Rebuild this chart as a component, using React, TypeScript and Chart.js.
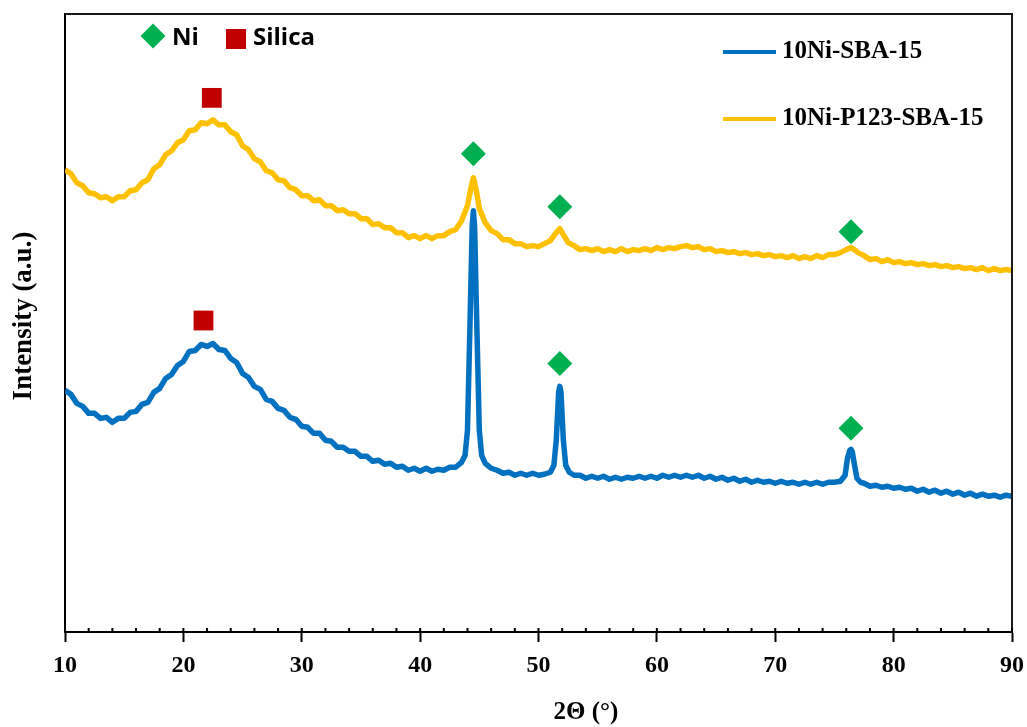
import React, { useEffect, useRef } from "react";
import { Chart, registerables } from "chart.js";

Chart.register(...registerables);

// 2θ positions and intensities (a.u.) for 10Ni-SBA-15
const blueTheta = [
  10, 10.5, 11, 11.5, 12, 12.5, 13, 13.5, 14,
  14.5, 15, 15.5, 16, 16.5, 17, 17.5, 18, 18.5, 19,
  19.5, 20, 20.5, 21, 21.5, 22, 22.5, 23, 23.5, 24,
  24.5, 25, 25.5, 26, 26.5, 27, 27.5, 28, 28.5, 29,
  29.5, 30, 30.5, 31, 31.5, 32, 32.5, 33, 33.5, 34,
  34.5, 35, 35.5, 36, 36.5, 37, 37.5, 38, 38.5, 39,
  39.5, 40, 40.5, 41, 41.5, 42, 42.5, 43, 43.5,
  43.8, 44.0, 44.2, 44.4, 44.5, 44.6, 44.8, 45.0, 45.2,
  45.5, 46, 46.5, 47, 47.5, 48, 48.5, 49, 49.5, 50, 50.5, 51,
  51.3, 51.5, 51.7, 51.8, 51.9, 52.1, 52.3, 52.6,
  53, 53.5, 54, 54.5, 55, 55.5, 56, 56.5, 57, 57.5, 58, 58.5, 59, 59.5, 60, 60.5,
  61, 61.5, 62, 62.5, 63, 63.5, 64, 64.5, 65, 65.5, 66, 66.5, 67, 67.5, 68, 68.5,
  69, 69.5, 70, 70.5, 71, 71.5, 72, 72.5, 73, 73.5, 74, 74.5, 75, 75.5,
  75.9, 76.1, 76.3, 76.4, 76.5, 76.7, 76.9, 77.2,
  77.5, 78, 78.5, 79, 79.5, 80, 80.5, 81, 81.5, 82, 82.5, 83, 83.5, 84, 84.5,
  85, 85.5, 86, 86.5, 87, 87.5, 88, 88.5, 89, 89.5, 90,
];
const blueIntensity = [
  242, 238, 229, 226, 219, 219, 214, 215, 210,
  214, 214, 220, 221, 228, 230, 240, 244, 254, 258,
  267, 271, 281, 282, 288, 286, 289, 283, 282, 274,
  270, 259, 255, 246, 243, 233, 231, 224, 222, 215,
  213, 206, 205, 199, 199, 192, 191, 185, 185, 181,
  181, 176, 176, 171, 172, 168, 169, 165, 166, 162,
  164, 161, 164, 161, 163, 162, 165, 165, 170,
  177, 202, 302, 407, 422, 407, 302, 202, 177,
  169, 164, 162, 159, 160, 157, 159, 157, 159, 157, 158, 160,
  167, 192, 240, 246, 240, 192, 167, 160,
  157, 157, 154, 156, 154, 156, 153, 155, 153, 155, 154, 156, 154, 156, 154, 157,
  155, 157, 155, 157, 155, 157, 154, 156, 153, 155, 152, 154, 151, 153, 150, 152,
  150, 151, 149, 151, 149, 150, 148, 150, 148, 150, 148, 150, 150, 151,
  157, 174, 182, 183, 181, 167, 154, 150,
  149, 146, 147, 145, 146, 144, 145, 143, 144, 141, 143, 140, 142, 139, 141,
  138, 140, 137, 139, 136, 138, 136, 137, 135, 137, 136,
];

// 2θ positions and intensities (a.u.) for 10Ni-P123-SBA-15
const yellowTheta = [
  10, 10.5, 11, 11.5, 12, 12.5, 13, 13.5, 14,
  14.5, 15, 15.5, 16, 16.5, 17, 17.5, 18, 18.5, 19,
  19.5, 20, 20.5, 21, 21.5, 22, 22.5, 23, 23.5, 24,
  24.5, 25, 25.5, 26, 26.5, 27, 27.5, 28, 28.5, 29,
  29.5, 30, 30.5, 31, 31.5, 32, 32.5, 33, 33.5, 34,
  34.5, 35, 35.5, 36, 36.5, 37, 37.5, 38, 38.5, 39,
  39.5, 40, 40.5, 41, 41.5, 42, 42.5, 43, 43.5, 44,
  44.25, 44.5, 44.75,
  45, 45.5, 46, 46.5, 47, 47.5, 48, 48.5, 49, 49.5, 50, 50.5, 51, 51.5,
  51.8, 52.1, 52.5,
  53, 53.5, 54, 54.5, 55, 55.5, 56, 56.5, 57, 57.5, 58, 58.5, 59, 59.5, 60, 60.5,
  61, 61.5, 62, 62.5, 63, 63.5, 64, 64.5, 65, 65.5, 66, 66.5, 67, 67.5, 68, 68.5,
  69, 69.5, 70, 70.5, 71, 71.5, 72, 72.5, 73, 73.5, 74, 74.5, 75, 75.5, 76,
  76.4, 76.8,
  77, 77.5, 78, 78.5, 79, 79.5, 80, 80.5, 81, 81.5, 82, 82.5, 83, 83.5, 84, 84.5,
  85, 85.5, 86, 86.5, 87, 87.5, 88, 88.5, 89, 89.5, 90,
];
const yellowIntensity = [
  463, 459, 450, 447, 440, 439, 435, 436, 432,
  436, 436, 442, 443, 450, 453, 464, 468, 478, 482,
  490, 493, 502, 503, 510, 509, 513, 508, 508, 501,
  498, 487, 483, 474, 471, 462, 460, 453, 452, 445,
  443, 437, 437, 432, 433, 427, 427, 422, 423, 419,
  419, 414, 414, 408, 409, 405, 405, 400, 400, 395,
  397, 394, 397, 394, 397, 397, 401, 403, 412, 427,
  442, 455, 442,
  424, 410, 402, 399, 393, 393, 389, 389, 386, 387, 386, 389, 392, 400,
  404, 398, 390,
  387, 383, 384, 382, 384, 381, 383, 381, 384, 381, 383, 382, 384, 382, 385, 383,
  385, 384, 386, 387, 385, 386, 383, 384, 381, 382, 380, 381, 379, 380, 378, 379,
  377, 378, 376, 377, 375, 377, 374, 376, 374, 377, 375, 378, 378, 380, 383,
  385, 382,
  380, 377, 373, 374, 371, 373, 370, 371, 369, 370, 368, 369, 367, 368, 366, 367,
  365, 366, 364, 365, 363, 365, 362, 364, 362, 363, 362,
];

// Peak markers
const niTheta = [44.5, 51.8, 76.4, 51.8, 76.4];
const niIntensity = [479, 426, 401, 269, 204];
const silicaTheta = [22.4, 21.7];
const silicaIntensity = [535, 312];

const xTicks = [10, 20, 30, 40, 50, 60, 70, 80, 90];
const minorTicks = [12, 14, 16, 18, 22, 24, 26, 28, 32, 34, 36, 38, 42, 44, 46, 48, 52, 54, 56, 58, 62, 64, 66, 68, 72, 74, 76, 78, 82, 84, 86, 88];

const seriesNames = ["10Ni-SBA-15", "10Ni-P123-SBA-15"];
const seriesColors = ["#0070C0", "#FFC000"];
const NI_COLOR = "#00B050";
const SI_COLOR = "#C00000";
const SERIF = '"Liberation Serif", "Times New Roman", serif';

const pts = (xs: number[], ys: number[]) =>
  xs.map((x, i) => ({ x, y: ys[i] })).filter((p) => p.y !== undefined);

const decorPlugin = {
  id: "decor",
  afterDraw(chart: any) {
    const { ctx, chartArea } = chart;
    const xs = chart.scales.x;
    const { left, right, top, bottom } = chartArea;
    ctx.save();
    // frame top/right
    ctx.strokeStyle = "#1a1a1a";
    ctx.lineWidth = 2;
    ctx.beginPath();
    ctx.moveTo(left, top);
    ctx.lineTo(right, top);
    ctx.lineTo(right, bottom);
    ctx.stroke();
    // inward ticks
    ctx.strokeStyle = "#000";
    ctx.lineWidth = 2;
    ctx.beginPath();
    [...minorTicks, ...xTicks].forEach((v) => {
      const px = xs.getPixelForValue(v);
      ctx.moveTo(px, bottom - 4);
      ctx.lineTo(px, bottom);
    });
    ctx.stroke();

    // axis titles
    ctx.fillStyle = "#000";
    ctx.font = `bold 25px ${SERIF}`;
    ctx.textAlign = "center";
    ctx.textBaseline = "middle";
    ctx.fillText("2\u0398 (\u00B0)", 586, 713);
    ctx.save();
    ctx.translate(24, 316);
    ctx.rotate(-Math.PI / 2);
    ctx.font = `bold 27px ${SERIF}`;
    ctx.fillText("Intensity (a.u.)", 0, 0);
    ctx.restore();

    // phase key (top-left)
    ctx.fillStyle = NI_COLOR;
    ctx.beginPath();
    ctx.moveTo(153 - 12.5, 36);
    ctx.lineTo(153, 36 - 12.5);
    ctx.lineTo(153 + 12.5, 36);
    ctx.lineTo(153, 36 + 12.5);
    ctx.closePath();
    ctx.fill();
    ctx.fillStyle = SI_COLOR;
    ctx.fillRect(226, 29, 20, 20);
    ctx.fillStyle = "#000";
    ctx.font = 'bold 24px "Open Sans", "Noto Sans", sans-serif';
    ctx.textAlign = "left";
    ctx.fillText("Ni", 172, 38);
    ctx.fillText("Silica", 253, 38);

    // series legend (top-right)
    const rows = [52, 119];
    seriesNames.forEach((name, i) => {
      ctx.strokeStyle = seriesColors[i];
      ctx.lineWidth = 4;
      ctx.beginPath();
      ctx.moveTo(723, rows[i]);
      ctx.lineTo(776, rows[i]);
      ctx.stroke();
      ctx.fillStyle = "#000";
      ctx.font = `bold 25px ${SERIF}`;
      ctx.textAlign = "left";
      ctx.textBaseline = "middle";
      ctx.fillText(name, 782, rows[i]);
    });
    ctx.restore();
  },
};

export default function App() {
  const ref = useRef<HTMLCanvasElement | null>(null);
  useEffect(() => {
    if (!ref.current) return;
    const chart = new Chart(ref.current, {
      type: "scatter",
      data: {
        datasets: [
          {
            label: "Ni",
            data: pts(niTheta, niIntensity),
            pointStyle: "rectRot",
            pointRadius: 12.5,
            backgroundColor: NI_COLOR,
            borderWidth: 0,
            showLine: false,
            order: 0,
          },
          {
            label: "Silica",
            data: pts(silicaTheta, silicaIntensity),
            pointStyle: "rect",
            pointRadius: 14,
            backgroundColor: SI_COLOR,
            borderWidth: 0,
            showLine: false,
            order: 0,
          },
          {
            label: seriesNames[0],
            data: pts(blueTheta, blueIntensity),
            borderColor: seriesColors[0],
            backgroundColor: seriesColors[0],
            borderWidth: 5.5,
            borderJoinStyle: "round",
            pointRadius: 0,
            showLine: true,
            tension: 0,
            order: 1,
          },
          {
            label: seriesNames[1],
            data: pts(yellowTheta, yellowIntensity),
            borderColor: seriesColors[1],
            backgroundColor: seriesColors[1],
            borderWidth: 5.5,
            borderJoinStyle: "round",
            pointRadius: 0,
            showLine: true,
            tension: 0,
            order: 2,
          },
        ],
      },
      options: {
        animation: false,
        responsive: true,
        maintainAspectRatio: false,
        layout: { padding: { top: 13, right: 3, left: 0, bottom: 0 } },
        plugins: {
          legend: { display: false },
          tooltip: { enabled: false },
        },
        scales: {
          x: {
            type: "linear",
            min: 10,
            max: 90,
            afterFit: (s: any) => {
              s.height = 95;
              s.paddingRight = 15;
            },
            afterBuildTicks: (s: any) => {
              s.ticks = xTicks.map((v) => ({ value: v }));
            },
            ticks: {
              color: "#000",
              font: { family: SERIF, size: 24, weight: "bold" },
              padding: 9,
              maxRotation: 0,
            },
            grid: {
              drawOnChartArea: false,
              drawTicks: true,
              tickLength: 10,
              tickColor: "#000",
              tickWidth: 2,
            },
            border: { display: true, color: "#000", width: 2 },
          },
          y: {
            type: "linear",
            min: 0,
            max: 619,
            afterFit: (s: any) => {
              s.width = 65;
            },
            ticks: { display: false },
            grid: { display: false },
            border: { display: true, color: "#000", width: 2 },
          },
        },
      },
      plugins: [decorPlugin],
    });
    return () => chart.destroy();
  }, []);
  return (
    <div style={{ position: "absolute", left: 0, top: 0, width: 1027, height: 727, background: "#fff" }}>
      <canvas ref={ref} />
    </div>
  );
}
